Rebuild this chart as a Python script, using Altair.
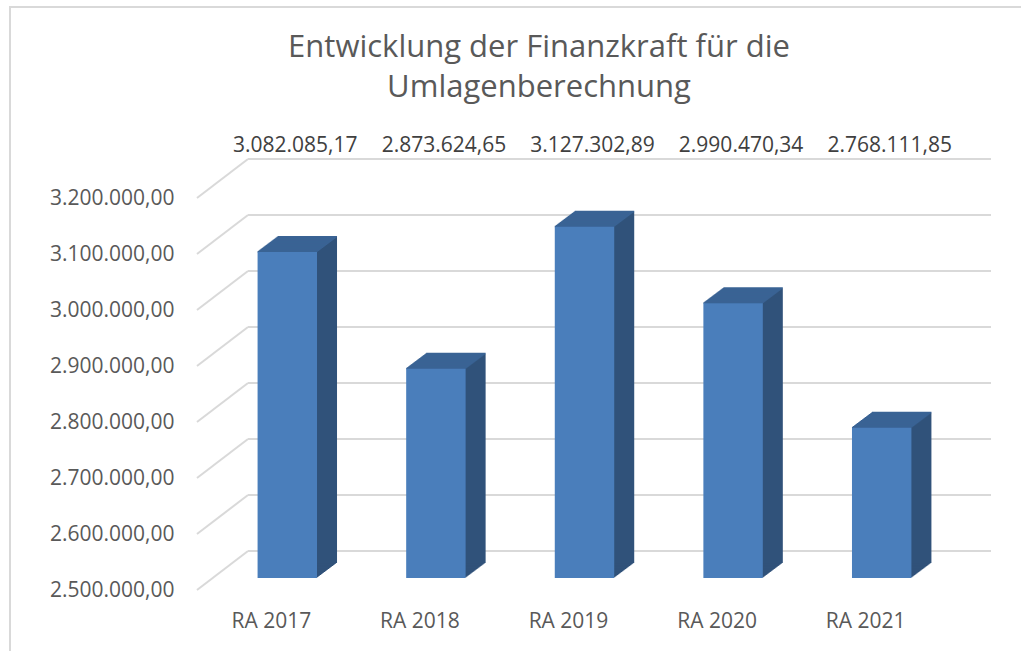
import altair as alt
import pandas as pd

categories = ["RA 2017", "RA 2018", "RA 2019", "RA 2020", "RA 2021"]
values = [3082085.17, 2873624.65, 3127302.89, 2990470.34, 2768111.85]
y_ticks = [2500000, 2600000, 2700000, 2800000, 2900000, 3000000, 3100000, 3200000]
title_lines = ["Entwicklung der Finanzkraft für die", "Umlagenberechnung"]

df = pd.DataFrame({"cat": categories, "value": values})
ticks_df = pd.DataFrame({"tick": y_ticks})

FONT = "Open Sans"
FRONT = "#4a7ebb"
SIDE = "#30527a"
TOP = "#3a6394"
GRID = "#d9d9d9"

W, H = 743, 392
BASE = 2500000
DX0, DY0 = 16, -12       # bar front offset (depth position of bars)
DEPTH = 20               # bar depth in px
SLOPE = 0.75
WALL_DX, WALL_DY = 51, -39

xs = alt.Scale(domain=categories, paddingInner=0.6, paddingOuter=0.3)
ys = alt.Scale(domain=[2500000, 3200000], zero=False, nice=False)

y_axis = alt.Axis(title=None, values=y_ticks, format=",.2f", domain=False,
                  ticks=False, grid=False, labelPadding=23, labelFont=FONT,
                  labelFontSize=21, labelColor="#595959")

X = alt.X("cat:N", scale=xs, sort=None,
          axis=alt.Axis(title=None, labelAngle=0, domain=False, ticks=False,
                        labelPadding=20, labelFont=FONT, labelFontSize=21,
                        labelColor="#595959"))
Y = alt.Y("value:Q", scale=ys, axis=y_axis)
YT = alt.Y("tick:Q", scale=ys, axis=y_axis)

layers = []

# back wall gridlines
layers.append(
    alt.Chart(ticks_df).mark_rule(color=GRID, strokeWidth=2, yOffset=WALL_DY)
    .encode(y=YT, x=alt.value(WALL_DX), x2=alt.value(W + WALL_DX))
)
# side wall diagonals
layers.append(
    alt.Chart(ticks_df).mark_rule(color=GRID, strokeWidth=2, y2Offset=WALL_DY)
    .encode(y=YT, y2="tick:Q", x=alt.value(0), x2=alt.value(WALL_DX))
)

# side faces (extrusion)
for k in range(1, DEPTH + 1):
    off_y = DY0 - SLOPE * k
    layers.append(
        alt.Chart(df).mark_bar(color=SIDE, xOffset=DX0 + k, x2Offset=DX0 + k,
                               yOffset=off_y, y2Offset=off_y)
        .encode(x=X, y=Y, y2=alt.datum(BASE))
    )
# top faces
for k in range(0, DEPTH + 1):
    off_y = DY0 - SLOPE * k
    layers.append(
        alt.Chart(df).mark_bar(color=TOP, xOffset=DX0 + k, x2Offset=DX0 + k,
                               yOffset=off_y - 1, y2Offset=off_y + 0.5)
        .encode(x=X, y=Y, y2="value:Q")
    )
# front faces
layers.append(
    alt.Chart(df).mark_bar(color=FRONT, xOffset=DX0, x2Offset=DX0,
                           yOffset=DY0, y2Offset=DY0)
    .encode(x=X, y=Y, y2=alt.datum(BASE))
)

# data labels
layers.append(
    alt.Chart(df).mark_text(font=FONT, fontSize=21, color="#404040",
                            baseline="alphabetic", dx=DX0 + 8)
    .encode(x=X, y=alt.value(-46), text=alt.Text("value:Q", format=",.2f"))
)

# title
layers.append(
    alt.Chart(pd.DataFrame({"t": [title_lines]})).mark_text(
        font=FONT, fontSize=31, color="#595959", baseline="alphabetic",
        align="center", lineHeight=40)
    .encode(x=alt.value(342), y=alt.value(-141), text="t")
)

# outer frame
layers.append(
    alt.Chart(ticks_df.head(1)).mark_rule(color=GRID, strokeWidth=2)
    .encode(x=alt.value(-187), y=alt.value(-191), y2=alt.value(460))
)
layers.append(
    alt.Chart(ticks_df.head(1)).mark_rule(color=GRID, strokeWidth=2)
    .encode(x=alt.value(-188), x2=alt.value(830), y=alt.value(-191))
)

chart = (
    alt.layer(*layers)
    .properties(width=W, height=H, background="white",
                padding={"left": 197, "top": 198, "right": 81, "bottom": 61},
                autosize=alt.AutoSizeParams(type="none"))
    .configure(locale={"number": {"decimal": ",", "thousands": ".",
                                  "grouping": [3], "currency": ["", " €"]}})
    .configure_view(stroke=None)
)

chart.save("out.html", embed_options={"renderer": "svg", "actions": False})
